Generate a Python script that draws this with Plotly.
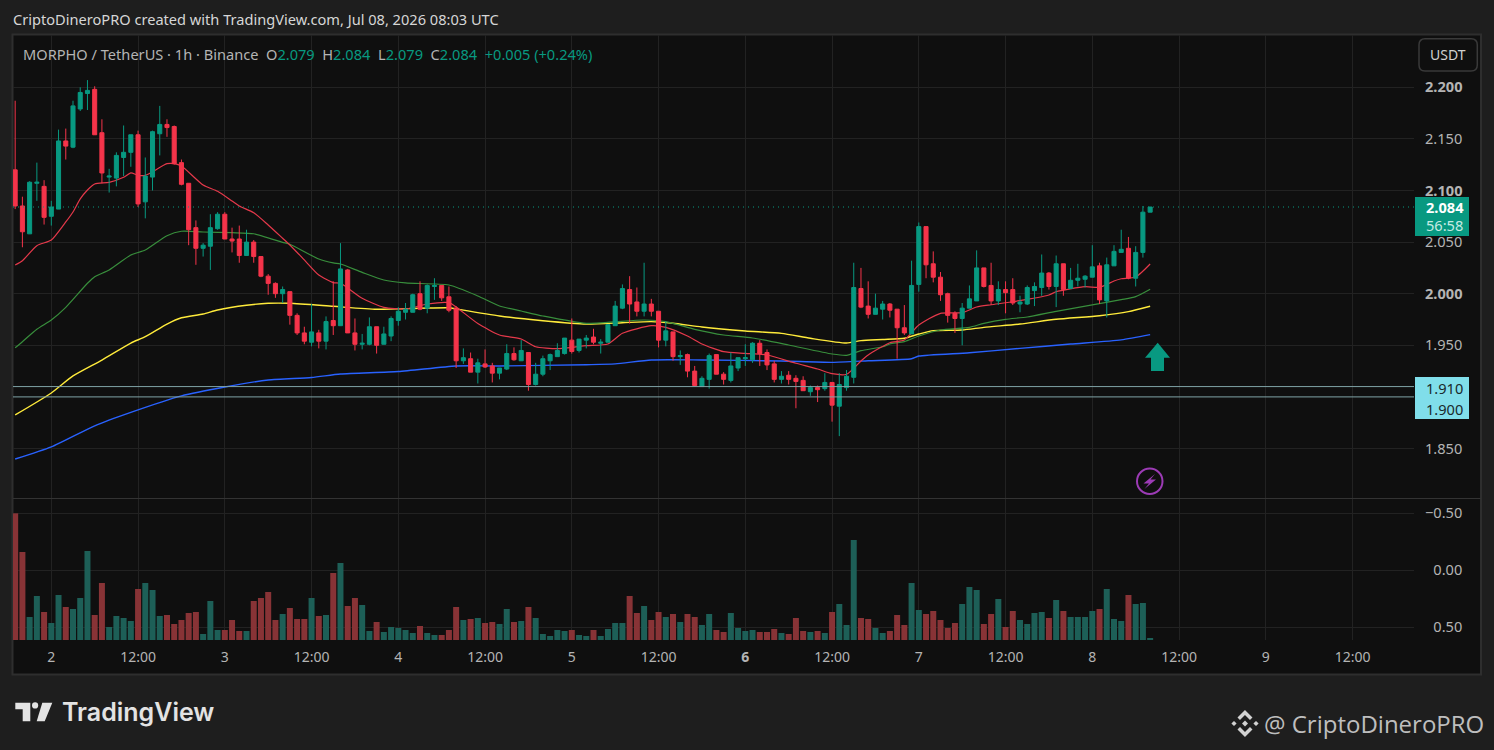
import plotly.graph_objects as go
import pandas as pd

# hourly candles, MORPHO/USDT
opens = [
    2.120,2.085,2.058,2.107,2.104,2.075,2.082,2.148,2.142,2.179,
    2.194,2.198,2.156,2.113,2.112,2.132,2.137,2.154,2.089,2.113,
    2.155,2.164,2.162,2.127,2.107,2.064,2.044,2.046,2.063,2.077,
    2.053,2.053,2.037,2.050,2.036,2.017,2.010,2.000,2.002,1.979,
    1.962,1.953,1.962,1.954,1.974,1.969,2.023,1.962,1.951,1.951,
    1.968,1.951,1.959,1.974,1.982,1.982,2.000,1.986,2.007,2.008,
    1.997,1.986,1.935,1.937,1.924,1.932,1.930,1.923,1.927,1.942,
    1.935,1.943,1.912,1.922,1.935,1.939,1.942,1.955,1.945,1.955,
    1.958,1.952,1.953,1.969,1.986,2.004,1.992,1.983,1.990,1.983,
    1.955,1.963,1.939,1.941,1.925,1.910,1.917,1.941,1.922,1.916,
    1.928,1.937,1.936,1.952,1.943,1.932,1.917,1.921,1.918,1.916,
    1.905,1.909,1.908,1.914,1.891,1.909,1.919,2.005,1.988,1.980,
    1.985,1.990,1.985,1.967,1.961,2.009,2.065,2.029,2.016,2.000,
    1.981,1.976,1.986,1.993,2.025,2.008,1.993,2.004,2.004,1.990,
    1.990,2.003,2.006,2.020,2.007,2.029,2.005,2.013,2.014,2.016,
    2.027,1.993,2.027,2.040,2.044,2.015,2.040,2.079,
]
closes = [
    2.085,2.060,2.108,2.108,2.074,2.084,2.148,2.143,2.182,2.195,
    2.197,2.154,2.117,2.114,2.134,2.137,2.154,2.087,2.114,2.157,
    2.164,2.161,2.126,2.106,2.062,2.044,2.047,2.064,2.077,2.053,
    2.051,2.037,2.050,2.036,2.017,2.010,2.000,2.004,1.979,1.962,
    1.954,1.963,1.954,1.973,1.969,2.024,1.962,1.951,1.952,1.968,
    1.950,1.961,1.976,1.983,1.985,1.999,1.985,2.008,2.008,1.996,
    1.984,1.935,1.938,1.924,1.933,1.929,1.923,1.928,1.942,1.936,
    1.945,1.912,1.922,1.937,1.941,1.945,1.957,1.944,1.956,1.957,
    1.953,1.953,1.970,1.988,2.005,1.990,1.983,1.990,1.983,1.955,
    1.964,1.939,1.940,1.925,1.911,1.918,1.940,1.922,1.917,1.930,
    1.938,1.938,1.952,1.942,1.931,1.917,1.920,1.917,1.915,1.906,
    1.909,1.907,1.914,1.892,1.912,1.920,2.006,1.987,1.980,1.986,
    1.990,1.984,1.967,1.962,2.008,2.065,2.028,2.016,1.999,1.979,
    1.976,1.986,1.995,2.025,2.007,1.993,2.004,2.001,1.991,1.992,
    2.006,2.007,2.020,2.007,2.029,2.004,2.013,2.015,2.017,2.026,
    1.994,2.028,2.041,2.043,2.015,2.040,2.079,2.084,
]
highs = [
    2.187,2.094,2.109,2.127,2.110,2.090,2.159,2.160,2.187,2.200,
    2.207,2.201,2.169,2.121,2.137,2.163,2.154,2.158,2.132,2.158,
    2.182,2.169,2.163,2.130,2.107,2.071,2.049,2.077,2.079,2.079,
    2.064,2.066,2.062,2.052,2.036,2.019,2.011,2.007,2.002,1.981,
    1.968,1.990,1.965,1.978,2.012,2.049,2.024,1.976,1.961,1.977,
    1.968,1.968,1.978,1.987,1.991,2.000,2.012,2.009,2.015,2.008,
    2.007,1.988,1.947,1.943,1.937,1.946,1.933,1.928,1.951,1.948,
    1.955,1.943,1.933,1.940,1.942,1.952,1.957,1.976,1.956,1.960,
    1.966,1.956,1.970,1.993,2.009,2.017,2.006,2.030,1.995,1.983,
    1.973,1.963,1.945,1.942,1.930,1.920,1.942,1.941,1.924,1.943,
    1.938,1.951,1.953,1.955,1.946,1.935,1.925,1.925,1.921,1.920,
    1.911,1.911,1.923,1.914,1.923,1.926,2.030,2.025,2.012,2.000,
    1.993,1.991,1.985,1.989,2.032,2.069,2.065,2.041,2.021,2.001,
    1.983,1.991,2.008,2.042,2.025,2.030,2.012,2.012,2.015,1.998,
    2.008,2.011,2.038,2.021,2.037,2.029,2.025,2.029,2.018,2.047,
    2.030,2.035,2.047,2.062,2.055,2.046,2.085,2.084,
]
lows = [
    2.082,2.045,2.058,2.090,2.067,2.066,2.082,2.130,2.141,2.177,
    2.178,2.154,2.107,2.098,2.104,2.114,2.123,2.084,2.073,2.100,
    2.134,2.152,2.125,2.105,2.047,2.028,2.036,2.023,2.062,2.053,
    2.040,2.030,2.037,2.030,2.016,1.999,1.996,1.991,1.970,1.960,
    1.951,1.949,1.947,1.946,1.960,1.969,1.962,1.945,1.946,1.950,
    1.942,1.951,1.954,1.969,1.975,1.982,1.984,1.981,1.994,1.993,
    1.982,1.928,1.932,1.924,1.913,1.928,1.914,1.917,1.926,1.935,
    1.935,1.906,1.911,1.920,1.926,1.939,1.941,1.942,1.943,1.947,
    1.951,1.942,1.953,1.969,1.985,1.971,1.978,1.978,1.978,1.948,
    1.949,1.935,1.931,1.919,1.910,1.910,1.908,1.922,1.912,1.914,
    1.925,1.930,1.933,1.930,1.926,1.914,1.913,1.912,1.889,1.906,
    1.901,1.895,1.906,1.876,1.862,1.906,1.913,1.986,1.976,1.980,
    1.975,1.977,1.937,1.960,1.961,2.002,2.015,2.011,1.993,1.972,
    1.962,1.950,1.986,1.993,2.006,1.989,1.989,1.981,1.989,1.982,
    1.989,1.988,1.998,2.004,1.987,1.998,2.005,2.007,2.006,2.016,
    1.990,1.977,2.027,2.040,2.014,2.007,2.035,2.079,
]
# volume, relative units (the pane has no real volume scale)
volumes = [
    380,264,69,132,84,51,135,99,93,126,
    267,75,171,39,72,66,57,153,171,150,
    72,75,48,60,81,84,18,117,30,30,
    60,27,27,117,126,144,60,78,96,63,
    63,126,72,75,201,231,102,126,105,27,
    54,24,39,36,30,21,42,21,15,15,
    30,99,60,63,66,51,54,48,93,54,
    57,99,66,18,12,30,27,30,15,12,
    30,12,33,51,51,132,81,102,60,84,
    69,78,54,78,69,45,78,30,24,81,
    36,27,30,24,24,33,21,18,66,27,
    24,27,21,84,108,45,300,66,63,36,
    21,27,75,45,171,90,78,87,60,36,
    51,108,159,150,48,78,123,39,87,60,
    48,81,84,66,120,87,69,69,69,87,
    93,153,63,57,135,108,111,6,
]

# moving averages: candle number and value at the places they were read
red_idx = [0,1,3,5,7,8,9,10,11,13,15,16,17,18,19,21,22,23,26,28,30,31,33,35,37,38,40,42,44,45,48,51,54,57,60,61,64,67,70,72,75,79,82,84,88,90,93,95,98,101,104,108,111,113,115,117,118,121,123,125,128,131,133,135,138,143,144,148,150,152,153,155,157]
red_ma = [2.0278,2.0320,2.0465,2.0520,2.0695,2.0792,2.0918,2.1005,2.1063,2.1079,2.1128,2.1170,2.1147,2.1147,2.1182,2.1260,2.1260,2.1237,2.1053,2.0992,2.0898,2.0850,2.0785,2.0666,2.0537,2.0472,2.0327,2.0181,2.0107,2.0101,1.9955,1.9868,1.9852,1.9900,1.9913,1.9871,1.9711,1.9600,1.9561,1.9486,1.9467,1.9496,1.9513,1.9616,1.9690,1.9674,1.9590,1.9513,1.9438,1.9422,1.9406,1.9326,1.9270,1.9225,1.9219,1.9348,1.9406,1.9525,1.9551,1.9697,1.9810,1.9816,1.9871,1.9893,1.9922,1.9987,2.0019,2.0068,2.0062,2.0123,2.0145,2.0162,2.0288]

green_idx = [0,1,3,5,7,10,11,13,16,18,21,23,26,30,33,37,38,42,44,45,48,51,54,60,64,67,70,73,79,87,90,94,98,102,107,113,115,117,120,121,123,125,128,132,134,137,140,144,149,153,155,157]
green_ma = [1.9477,1.9535,1.9655,1.9745,1.9868,2.0101,2.0165,2.0230,2.0375,2.0423,2.0562,2.0605,2.0598,2.0591,2.0581,2.0498,2.0479,2.0336,2.0298,2.0288,2.0207,2.0133,2.0104,2.0084,1.9978,1.9881,1.9832,1.9784,1.9713,1.9745,1.9729,1.9655,1.9600,1.9571,1.9503,1.9416,1.9403,1.9448,1.9486,1.9513,1.9535,1.9590,1.9648,1.9674,1.9713,1.9752,1.9774,1.9829,1.9891,1.9942,1.9971,2.0043]

yellow_idx = [0,5,8,12,16,18,21,23,26,28,32,35,38,44,50,56,60,61,67,73,79,84,88,91,95,101,106,110,115,117,120,123,125,127,131,134,139,144,150,154,157]
yellow_ma = [1.8825,1.9038,1.9203,1.9357,1.9522,1.9583,1.9706,1.9767,1.9803,1.9842,1.9888,1.9907,1.9907,1.9878,1.9849,1.9859,1.9864,1.9852,1.9784,1.9738,1.9706,1.9719,1.9729,1.9713,1.9677,1.9639,1.9616,1.9568,1.9522,1.9545,1.9556,1.9568,1.9609,1.9642,1.9648,1.9674,1.9706,1.9752,1.9787,1.9826,1.9878]

blue_idx = [0,5,11,16,23,29,35,41,45,53,61,67,79,83,88,95,106,113,118,124,125,132,139,146,153,157]
blue_ma = [1.8398,1.8515,1.872,1.885,1.901,1.9096,1.9164,1.9188,1.9222,1.9246,1.930,1.930,1.9312,1.932,1.9358,1.9358,1.9348,1.9335,1.935,1.937,1.9396,1.9428,1.947,1.9512,1.9552,1.9603]

support_levels = [1.91, 1.90]
last_price = 2.084

price_ticks = [2.2, 2.15, 2.1, 2.05, 2.0, 1.95, 1.85]
price_labels = ["<b>2.200</b>", "2.150", "<b>2.100</b>", "2.050", "<b>2.000</b>", "1.950", "1.850"]
scale_ticks = [-0.5, 0, 0.5]
scale_labels = ["\u22120.50", "\u20070.00", "\u20070.50"]
time_ticks = ["2026-07-02", "2026-07-02 12:00", "2026-07-03", "2026-07-03 12:00", "2026-07-04", "2026-07-04 12:00",
              "2026-07-05", "2026-07-05 12:00", "2026-07-06", "2026-07-06 12:00", "2026-07-07", "2026-07-07 12:00",
              "2026-07-08", "2026-07-08 12:00", "2026-07-09", "2026-07-09 12:00"]
time_labels = ["2", "12:00", "3", "12:00", "4", "12:00", "5", "12:00", "<b>6</b>", "12:00", "7", "12:00", "8", "12:00", "9", "12:00"]

W, H = 1494, 750
FONT = "Noto Sans"
UP, DOWN = "#089981", "#F5344A"
VOL_UP, VOL_DOWN = "#1D5F57", "#883336"
PANE = "#0F0F0F"
GRID = "#222222"
LABEL = "#B4B4B4"
XRANGE = ["2026-07-01 18:42", "2026-07-09 20:30"]


def px(x):
    return x / W


def py(y):
    return 1 - y / H


def poly(points):
    # closed path from page pixels to paper coordinates
    return "M" + " L".join(f"{px(x):.5f} {py(y):.5f}" for x, y in points) + " Z"


def note(x, y, text, size=13, color=LABEL, anchor="left", family=FONT, weight=None):
    fig.add_annotation(xref="paper", yref="paper", x=px(x), y=py(y), text=text, showarrow=False,
                       xanchor=anchor, yanchor="middle", align=anchor,
                       font=dict(family=family, size=size, color=color, weight=weight))


def draw(path, color):
    fig.add_shape(type="path", xref="paper", yref="paper", path=path, fillcolor=color, line_width=0)


times = pd.date_range("2026-07-01 19:00", periods=len(closes), freq="h")
vol_colors = [VOL_UP if c >= o else VOL_DOWN for o, c in zip(opens, closes)]

fig = go.Figure()

# lines go on the base axis, candles on an overlay so the bodies sit on top
for idx, vals, color, width in [
    (blue_idx, blue_ma, "#2962FF", 1.4),
    (yellow_idx, yellow_ma, "#FFEB3B", 1.4),
    (green_idx, green_ma, "#388E3C", 1.2),
    (red_idx, red_ma, "#E5394B", 1.2),
]:
    fig.add_trace(go.Scatter(x=times[idx], y=vals, mode="lines",
                             line=dict(color=color, width=width, shape="spline", smoothing=0.6),
                             xaxis="x", yaxis="y", hoverinfo="skip", showlegend=False))

fig.add_trace(go.Candlestick(
    x=times, open=opens, high=highs, low=lows, close=closes,
    increasing=dict(line=dict(color=UP, width=1), fillcolor=UP),
    decreasing=dict(line=dict(color=DOWN, width=1), fillcolor=DOWN),
    whiskerwidth=0, xaxis="x", yaxis="y4", showlegend=False,
))

fig.add_trace(go.Bar(x=times, y=volumes, marker=dict(color=vol_colors, line_width=0),
                     xaxis="x2", yaxis="y2", showlegend=False))
# empty trace so the pane's -0.50..0.50 scale gets drawn
fig.add_trace(go.Scatter(x=[times[0]], y=[0], mode="lines", xaxis="x2", yaxis="y3",
                         hoverinfo="skip", showlegend=False))

x_common = dict(range=XRANGE, domain=[px(13), px(1414)], tickvals=time_ticks, ticktext=time_labels,
                showgrid=True, gridcolor=GRID, gridwidth=1, zeroline=False, showline=False, ticks="")
y_main_range = [2.2 - (498 - 87.3) / 1032, 2.2 + (87.3 - 35) / 1032]

fig.update_layout(
    width=W, height=H, margin=dict(l=0, r=0, t=0, b=0),
    paper_bgcolor="#1E1E1E", plot_bgcolor=PANE,
    bargap=0.17, boxgap=0.2, showlegend=False, dragmode=False,
    font=dict(family=FONT, color=LABEL),
    xaxis=dict(x_common, anchor="y", showticklabels=False, rangeslider=dict(visible=False)),
    xaxis2=dict(x_common, anchor="y2", tickfont=dict(size=14, color=LABEL), ticklabelstandoff=7, matches="x"),
    yaxis=dict(domain=[py(498), py(35)], range=y_main_range, anchor="x", side="right",
               tickvals=price_ticks, ticktext=price_labels, tickfont=dict(size=14.6, color=LABEL),
               ticklabelstandoff=10, showgrid=True, gridcolor=GRID, zeroline=False, ticks=""),
    yaxis4=dict(range=y_main_range, overlaying="y", anchor="x", side="right", visible=False),
    yaxis2=dict(domain=[py(640), py(499)], range=[0, 423], anchor="x2", showgrid=False, zeroline=False,
                showticklabels=False, ticks=""),
    yaxis3=dict(range=[0.611, -0.625], overlaying="y2", anchor="x2", side="right",
                tickvals=scale_ticks, ticktext=scale_labels, tickfont=dict(size=14.6, color=LABEL),
                ticklabelstandoff=10, showgrid=True, gridcolor=GRID, zeroline=False, ticks=""),
)

# frame behind everything
fig.add_shape(type="rect", xref="paper", yref="paper", layer="below", x0=px(12.5), x1=px(1481), y0=py(674.5), y1=py(34.5),
              fillcolor=PANE, line=dict(color="#2E2E2E", width=2))
fig.add_shape(type="line", xref="paper", yref="paper", x0=px(13), x1=px(1481), y0=py(498.5), y1=py(498.5),
              line=dict(color="#333333", width=1))

# support levels and last price line
for level in support_levels:
    fig.add_shape(type="line", xref="x domain", yref="y", x0=0, x1=1, y0=level, y1=level,
                  line=dict(color="#7FA3A6", width=1))
fig.add_shape(type="line", xref="x domain", yref="y", x0=0, x1=1, y0=last_price, y1=last_price,
              line=dict(color=UP, width=1, dash="1px,4px"))

# price badges
fig.add_shape(type="rect", xref="paper", yref="paper", x0=px(1415), x1=px(1469), y0=py(236), y1=py(197), fillcolor=UP, line_width=0)
fig.add_shape(type="rect", xref="paper", yref="paper", x0=px(1415), x1=px(1469), y0=py(419), y1=py(377), fillcolor="#80DEEA", line_width=0)
note(1424, 207.5, f"<b>{last_price:.3f}</b>", size=14.6, color="#FFFFFF")
note(1424, 225, "56:58", size=14.6, color="#C4EBE3")
note(1424, 388, f"{support_levels[0]:.3f}", size=14.6, color="#1A2A2C")
note(1424, 408.5, f"{support_levels[1]:.3f}", size=14.6, color="#1A2A2C")

# green arrow above the last candles
draw(poly([(1157.7, 342.7), (1170, 357.7), (1164, 357.7), (1164, 371), (1151, 371), (1151, 357.7), (1145, 357.7)]), UP)

# purple lightning badge
fig.add_shape(type="circle", xref="paper", yref="paper", x0=px(1137), x1=px(1162.5), y0=py(494), y1=py(468.5),
              line=dict(color="#9C3BB5", width=2), fillcolor="rgba(0,0,0,0)")
draw(poly([(1155, 474), (1143.5, 483.5), (1149, 483.5), (1144.5, 489), (1156, 479.5), (1150.5, 479.5)]), "#9C3BB5")

# USDT button
fig.add_shape(type="path", xref="paper", yref="paper", line=dict(color="#3A3A3A", width=1.5), fillcolor=PANE,
              path=(f"M{px(1425)} {py(38.7)} L{px(1471)} {py(38.7)} Q{px(1477.3)} {py(38.7)} {px(1477.3)} {py(45)} "
                    f"L{px(1477.3)} {py(65)} Q{px(1477.3)} {py(71)} {px(1471)} {py(71)} "
                    f"L{px(1425)} {py(71)} Q{px(1419)} {py(71)} {px(1419)} {py(65)} "
                    f"L{px(1419)} {py(45)} Q{px(1419)} {py(38.7)} {px(1425)} {py(38.7)} Z"))
note(1448, 54.5, "USDT", size=14, color="#D0D0D0", anchor="center")

# header and legend texts
note(11, 19, "CriptoDineroPRO created with TradingView.com, Jul 08, 2026 08:03 UTC", size=14.6, color="#D6D6D6")
g = f'style="color:{UP}"'
note(21, 54,
     f'MORPHO / TetherUS \u00b7 1h \u00b7 Binance  O<span {g}>2.079</span>  H<span {g}>2.084</span>  '
     f'L<span {g}>2.079</span>  C<span {g}>2.084</span>  <span {g}>+0.005 (+0.24%)</span>',
     size=14.6, color="#B4B4B4")

# TradingView logo
logo = "#E3E3E3"
draw(poly([(15.3, 702.7), (30.3, 702.7), (30.3, 721.3), (22.7, 721.3), (22.7, 709.3), (15.3, 709.3)]), logo)
fig.add_shape(type="circle", xref="paper", yref="paper", x0=px(32), x1=px(38.2), y0=py(708.5), y1=py(702.3), fillcolor=logo, line_width=0)
draw(poly([(42.3, 702.7), (52.3, 702.7), (44.7, 721.3), (36.7, 721.3)]), logo)
note(60, 712, "TradingView", size=25, color=logo, family="Inter", weight=600)

# author mark, Binance style diamonds
mark = "#D2D2D2"
cx, cy = 1245, 723.5
draw(poly([(cx, cy - 13.5), (cx + 7.5, cy - 6), (cx + 5, cy - 3.5), (cx, cy - 8.5), (cx - 5, cy - 3.5), (cx - 7.5, cy - 6)]), mark)
draw(poly([(cx, cy + 13.5), (cx + 7.5, cy + 6), (cx + 5, cy + 3.5), (cx, cy + 8.5), (cx - 5, cy + 3.5), (cx - 7.5, cy + 6)]), mark)
for dx, dy, r in [(0, 0, 3), (-11, 0, 2.6), (11, 0, 2.6)]:
    draw(poly([(cx + dx, cy + dy - r), (cx + dx + r, cy + dy), (cx + dx, cy + dy + r), (cx + dx - r, cy + dy)]), mark)
note(1262, 723, "@ CriptoDineroPRO", size=24, color="#BEBEBE", family="Open Sans")

fig.write_html("out.html", config={"displayModeBar": False},
               post_script="document.body.style.margin='0';document.body.style.overflow='hidden';")
